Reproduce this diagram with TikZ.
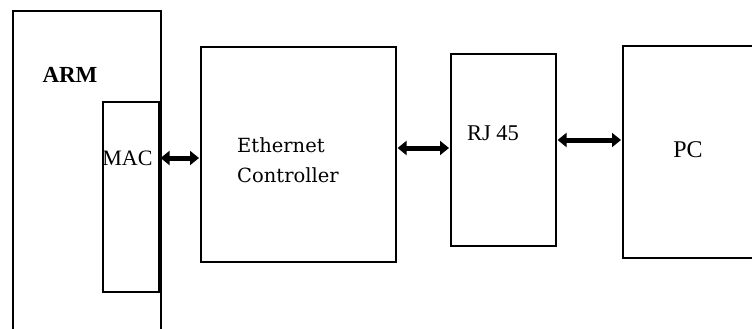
\documentclass[tikz,border=0pt]{standalone}
\usepackage{fontspec}
\setmainfont{Liberation Serif}
\newfontfamily\ecfont{DejaVu Serif}
\usetikzlibrary{arrows.meta}
\begin{document}
\begin{tikzpicture}[x=1pt,y=-1pt,
  box/.style={draw, line width=1.6pt, inner sep=0pt, anchor=north west},
  lbl/.style={inner sep=0pt, anchor=base},
  biarrow/.style={{Triangle[length=9pt,width=14pt]}-{Triangle[length=9pt,width=14pt]}, line width=5pt, shorten <=1pt, shorten >=1pt}]
\useasboundingbox (0,0) rectangle (752,329);
\clip (0,0) rectangle (752,329);
\fill[white] (0,0) rectangle (752,329);
% boxes
\node[box, minimum width=148pt, minimum height=340pt] (arm) at (12,10) {};
\node[box, minimum width=56pt, minimum height=190pt] (mac) at (102,101) {};
\node[box, minimum width=195pt, minimum height=215pt] (ec) at (200,46) {};
\node[box, minimum width=105pt, minimum height=192pt] (rj) at (450,53) {};
\node[box, minimum width=160pt, minimum height=212pt] (pc) at (622,45) {};
% labels
\node[lbl, font=\bfseries\fontsize{23}{26}\selectfont] (armt) at (70,82) {ARM};
\node[lbl, font=\fontsize{22}{26}\selectfont] (mact) at (127.5,165) {MAC};
\node[lbl, anchor=base west, font=\ecfont\fontsize{19.5}{23}\selectfont] (ec1) at (237,152) {Ethernet};
\node[lbl, anchor=base west, font=\ecfont\fontsize{19.5}{23}\selectfont] (ec2) at (237,182) {Controller};
\node[lbl, font=\fontsize{22.5}{26}\selectfont] (rjt) at (493,140) {RJ 45};
\node[lbl, font=\fontsize{24}{28}\selectfont] (pct) at (688,157) {PC};
% connectors
\coordinate (y1) at (0,158);
\coordinate (y2) at (0,148);
\coordinate (y3) at (0,140);
\draw[biarrow] (mac.east |- y1) -- (ec.west |- y1);
\draw[biarrow] (ec.east |- y2) -- (rj.west |- y2);
\draw[biarrow] (rj.east |- y3) -- (pc.west |- y3);
\end{tikzpicture}
\end{document}
